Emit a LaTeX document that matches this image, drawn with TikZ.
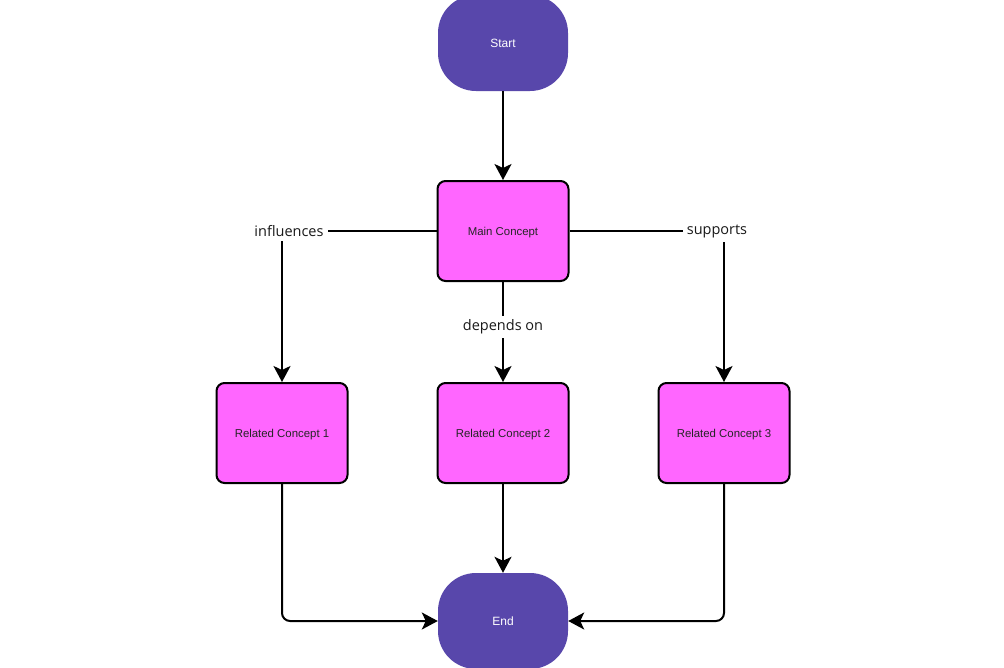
\documentclass[tikz,border=0pt]{standalone}
\usepackage{fontspec}
\setmainfont{Liberation Sans}
\newfontfamily\labelfont{Open Sans}
\usetikzlibrary{arrows.meta}
\definecolor{termpurple}{RGB}{88,71,171}
\definecolor{boxmagenta}{RGB}{255,102,255}
\begin{document}
\begin{tikzpicture}[x=1pt,y=-1pt,
  terminal/.style={shape=rectangle, fill=termpurple, draw=none, rounded corners=38pt,
    minimum width=130pt, minimum height=96pt, inner sep=0pt,
    text=white, font=\fontsize{12}{14}\selectfont},
  conceptbox/.style={shape=rectangle, fill=boxmagenta, draw=black, line width=2pt,
    rounded corners=8pt, minimum width=131pt, minimum height=100pt, inner sep=0pt,
    text depth=0pt, text=black!85, font=\fontsize{11.4}{13}\selectfont},
  conn/.style={draw=black, line width=2pt, -{Stealth[length=16pt,width=17pt,inset=4pt]}},
  edgelabel/.style={fill=white, inner sep=4pt, text=black!90,
    font=\labelfont\fontsize{14.5}{17}\selectfont}
]
\useasboundingbox (0,0) rectangle (1004,667);

\node[terminal] (start) at (503,43) {Start};
\node[conceptbox] (main) at (503,231) {Main Concept};
\node[conceptbox] (rc1) at (282,433) {Related Concept 1};
\node[conceptbox] (rc2) at (503,433) {Related Concept 2};
\node[conceptbox] (rc3) at (724,433) {Related Concept 3};
\node[terminal] (end) at (503,621) {End};

\draw[conn] (start.south) -- (main.north);
\draw[conn] (main.west) -| node[pos=0.5, edgelabel, xshift=7pt] {influences} (rc1.north);
\draw[conn] (main.east) -| node[pos=0.5, edgelabel, xshift=-7pt] {supports} (rc3.north);
\draw[conn] (main.south) -- node[pos=0.45, edgelabel] {depends on} (rc2.north);

\draw[conn, rounded corners=8pt] (rc1.south) |- (end.west);
\draw[conn] (rc2.south) -- (end.north);
\draw[conn, rounded corners=8pt] (rc3.south) |- (end.east);
\end{tikzpicture}
\end{document}
